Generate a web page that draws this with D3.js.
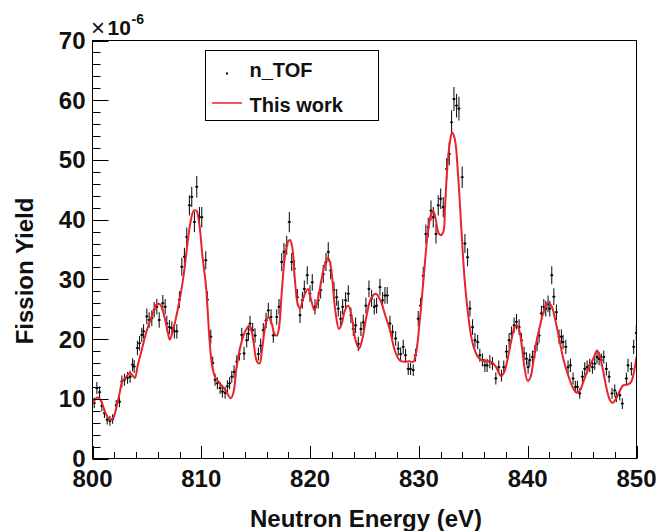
<!DOCTYPE html>
<html>
<head>
<meta charset="utf-8">
<script src="https://cdn.jsdelivr.net/npm/d3@7"></script>
<style>
  html, body { margin: 0; padding: 0; background: #fff; }
  svg { display: block; }
  text { font-family: "Liberation Sans", Arial, Helvetica, sans-serif; fill: #111; }
</style>
</head>
<body>
<svg id="chart" width="656" height="531"></svg>
<script>
// ---- data ----
const energies = [
  800.16, 800.40, 800.65, 800.86, 801.10, 801.35, 801.60, 801.85, 802.18, 802.48,
  802.70, 802.94, 803.22, 803.46, 803.68, 803.83, 804.13, 804.32, 804.53, 804.69,
  804.99, 805.21, 805.45, 805.67, 805.91, 806.13, 806.46, 806.68, 806.83, 807.07,
  807.29, 807.53, 807.75, 807.99, 808.21, 808.45, 808.66, 808.91, 809.12, 809.37,
  809.58, 809.83, 810.04, 810.41, 810.56, 810.87, 811.05, 811.27, 811.48, 811.73,
  811.94, 812.19, 812.40, 812.60, 812.80, 813.01, 813.26, 813.50, 813.72, 813.93,
  814.17, 814.33, 814.48, 814.72, 814.94, 815.25, 815.46, 815.70, 815.95, 816.16,
  816.41, 816.62, 816.93, 817.14, 817.39, 817.60, 817.85, 818.09, 818.31, 818.55,
  818.83, 819.07, 819.29, 819.47, 819.74, 819.99, 820.20, 820.45, 820.75, 820.97,
  821.21, 821.46, 821.67, 821.89, 822.19, 822.44, 822.59, 822.81, 822.99, 823.26,
  823.51, 823.75, 823.97, 824.18, 824.43, 824.67, 824.89, 825.13, 825.41, 825.65,
  825.90, 826.11, 826.42, 826.66, 826.88, 827.09, 827.34, 827.58, 827.86, 828.10,
  828.32, 828.56, 828.77, 829.02, 829.23, 829.48, 829.69, 829.94, 830.15, 830.40,
  830.64, 830.86, 831.11, 831.32, 831.57, 831.78, 832.00, 832.24, 832.55, 832.79,
  833.00, 833.22, 833.46, 833.68, 833.98, 834.23, 834.47, 834.69, 834.93, 835.15,
  835.40, 835.60, 835.84, 836.06, 836.27, 836.52, 836.76, 837.07, 837.34, 837.59,
  837.80, 838.05, 838.29, 838.51, 838.75, 838.97, 839.21, 839.43, 839.67, 839.89,
  840.04, 840.19, 840.44, 840.65, 840.86, 841.05, 841.26, 841.48, 841.66, 841.87,
  842.03, 842.21, 842.40, 842.64, 842.88, 843.10, 843.25, 843.50, 843.71, 843.93,
  844.17, 844.38, 844.57, 844.78, 845.03, 845.24, 845.46, 845.70, 845.95, 846.16,
  846.37, 846.56, 846.77, 846.99, 847.23, 847.48, 847.75, 848.00, 848.15, 848.46,
  848.70, 849.07, 849.22, 849.53, 849.74, 849.98
];
// fission yield in units of 1e-6
const yields = [
  9.3, 11.8, 11.1, 8.8, 7.6, 6.5, 6.3, 6.6, 8.9, 9.5,
  12.9, 13.2, 13.5, 13.7, 15.7, 15.4, 18.5, 19.3, 20.7, 21.3,
  23.8, 23.2, 23.5, 24.9, 25.4, 23.2, 26.0, 25.4, 22.6, 22.0,
  21.8, 21.3, 21.3, 26.6, 32.1, 33.8, 37.1, 42.4, 43.8, 39.6,
  45.5, 40.4, 40.4, 33.2, 26.6, 20.4, 16.0, 13.2, 12.6, 11.8,
  11.2, 11.0, 12.1, 12.6, 13.7, 14.5, 16.2, 17.5, 20.7, 17.6,
  19.8, 20.9, 22.6, 21.5, 20.6, 17.5, 18.9, 21.5, 23.1, 24.8,
  23.7, 20.6, 23.7, 25.4, 32.9, 34.6, 35.7, 39.6, 32.9, 31.8,
  27.0, 24.0, 26.5, 28.4, 30.7, 27.6, 29.5, 25.4, 26.5, 28.2,
  30.9, 32.9, 34.6, 31.5, 28.2, 27.0, 25.1, 23.4, 25.4, 26.5,
  27.6, 24.0, 21.7, 22.3, 19.2, 21.7, 22.8, 25.6, 28.4, 26.8,
  25.4, 25.6, 28.7, 26.5, 27.3, 27.3, 22.6, 21.2, 20.1, 18.4,
  17.5, 18.7, 17.3, 15.0, 15.0, 14.8, 17.3, 23.4, 25.6, 30.6,
  37.6, 38.7, 41.5, 40.4, 37.6, 42.4, 43.5, 42.1, 48.5, 51.0,
  56.3, 60.2, 59.1, 58.6, 47.1, 36.0, 33.7, 25.1, 22.0, 19.8,
  19.5, 17.3, 16.5, 15.6, 15.6, 16.2, 15.9, 13.4, 15.3, 13.9,
  15.3, 17.9, 19.8, 20.9, 22.3, 22.9, 22.0, 19.8, 17.6, 16.7,
  15.3, 16.5, 17.0, 17.9, 19.2, 20.6, 24.3, 25.4, 25.1, 25.9,
  25.1, 30.7, 27.1, 24.5, 20.4, 20.4, 19.5, 18.7, 15.3, 15.6,
  13.4, 12.0, 12.0, 10.9, 13.7, 15.0, 15.3, 15.6, 15.3, 15.9,
  17.0, 16.7, 16.5, 17.0, 15.0, 13.7, 10.9, 11.4, 10.3, 10.6,
  9.2, 13.4, 15.6, 15.0, 18.7, 21.0
];
const yieldErrors = [
  0.9, 1.0, 1.0, 0.9, 0.8, 0.8, 0.8, 0.8, 0.9, 0.9,
  1.0, 1.0, 1.0, 1.0, 1.1, 1.1, 1.2, 1.2, 1.2, 1.2,
  1.3, 1.3, 1.3, 1.3, 1.3, 1.3, 1.4, 1.3, 1.3, 1.2,
  1.2, 1.2, 1.2, 1.4, 1.5, 1.5, 1.6, 1.7, 1.7, 1.7,
  1.8, 1.7, 1.7, 1.5, 1.4, 1.2, 1.1, 1.0, 1.0, 1.0,
  1.0, 1.0, 1.0, 1.0, 1.0, 1.1, 1.1, 1.1, 1.2, 1.1,
  1.2, 1.2, 1.3, 1.2, 1.2, 1.1, 1.2, 1.2, 1.3, 1.3,
  1.3, 1.2, 1.3, 1.3, 1.5, 1.5, 1.6, 1.7, 1.5, 1.5,
  1.4, 1.3, 1.4, 1.4, 1.5, 1.4, 1.4, 1.3, 1.4, 1.4,
  1.5, 1.5, 1.6, 1.5, 1.4, 1.4, 1.3, 1.3, 1.3, 1.4,
  1.4, 1.3, 1.2, 1.3, 1.2, 1.2, 1.3, 1.3, 1.4, 1.4,
  1.3, 1.3, 1.4, 1.4, 1.4, 1.4, 1.3, 1.2, 1.2, 1.2,
  1.1, 1.2, 1.1, 1.0, 1.0, 1.0, 1.1, 1.3, 1.3, 1.5,
  1.6, 1.6, 1.7, 1.7, 1.6, 1.7, 1.7, 1.7, 1.8, 1.9,
  2.0, 2.0, 2.0, 2.0, 1.8, 1.6, 1.5, 1.3, 1.3, 1.2,
  1.2, 1.1, 1.1, 1.1, 1.1, 1.1, 1.1, 1.0, 1.1, 1.0,
  1.1, 1.1, 1.2, 1.2, 1.3, 1.3, 1.3, 1.2, 1.1, 1.1,
  1.1, 1.1, 1.1, 1.1, 1.2, 1.2, 1.3, 1.3, 1.3, 1.4,
  1.3, 1.5, 1.4, 1.3, 1.2, 1.2, 1.2, 1.2, 1.1, 1.1,
  1.0, 1.0, 1.0, 0.9, 1.0, 1.1, 1.1, 1.1, 1.1, 1.1,
  1.1, 1.1, 1.1, 1.1, 1.1, 1.0, 0.9, 1.0, 0.9, 0.9,
  0.9, 1.0, 1.1, 1.1, 1.2, 1.3
];
// "This work" curve
const fitEnergy = [
  800.0, 800.3, 800.5, 800.8, 801.2, 801.6, 801.9, 802.2, 802.5, 802.75,
  803.0, 803.4, 803.65, 803.9, 804.15, 804.5, 805.0, 805.5, 805.9, 806.2,
  806.6, 806.9, 807.1, 807.4, 807.75, 808.1, 808.4, 808.7, 809.0, 809.3,
  809.55, 809.8, 810.1, 810.45, 810.75, 811.0, 811.3, 811.7, 812.2, 812.7,
  812.95, 813.25, 813.7, 814.1, 814.45, 814.8, 815.1, 815.35, 815.6, 815.9,
  816.15, 816.45, 816.75, 816.95, 817.15, 817.4, 817.7, 818.0, 818.15, 818.35,
  818.6, 818.85, 819.07, 819.4, 819.8, 820.1, 820.4, 820.7, 821.1, 821.45,
  821.67, 821.95, 822.3, 822.65, 822.9, 823.2, 823.5, 823.8, 824.15, 824.5,
  824.8, 825.2, 825.6, 826.05, 826.5, 826.9, 827.34, 827.8, 828.25, 828.7,
  829.1, 829.48, 829.75, 830.05, 830.4, 830.8, 831.1, 831.3, 831.5, 831.8,
  832.0, 832.25, 832.4, 832.6, 832.85, 833.05, 833.3, 833.6, 833.9, 834.2,
  834.5, 834.8, 835.1, 835.5, 836.0, 836.4, 836.8, 837.1, 837.55, 837.85,
  838.1, 838.5, 838.8, 839.03, 839.25, 839.45, 839.7, 840.0, 840.25, 840.5,
  840.8, 841.1, 841.5, 841.87, 842.2, 842.5, 842.9, 843.3, 843.8, 844.2,
  844.5, 844.8, 845.2, 845.7, 846.05, 846.37, 846.6, 846.9, 847.3, 847.55,
  847.8, 848.05, 848.45, 848.8, 849.2, 849.5, 849.8, 850.0
];
const fitYield = [
  9.1, 10.0, 10.2, 9.6, 7.6, 6.5, 6.8, 8.6, 11.0, 13.0,
  13.4, 14.3, 14.0, 13.5, 15.5, 18.0, 21.5, 24.0, 25.8, 25.8,
  23.8, 21.3, 19.9, 21.5, 24.2, 27.5, 31.0, 35.5, 39.5, 41.5,
  41.5, 39.5, 34.0, 28.5, 20.0, 15.5, 13.5, 12.6, 11.5, 10.1,
  11.0, 15.4, 19.5, 21.5, 22.3, 19.5, 16.3, 15.9, 18.5, 22.3,
  23.7, 22.7, 20.8, 20.6, 22.0, 28.0, 34.0, 36.4, 36.6, 35.5,
  30.0, 26.0, 25.1, 27.0, 28.4, 26.5, 24.8, 26.5, 30.5, 33.0,
  33.6, 31.5, 25.0, 21.7, 22.5, 24.8, 25.6, 24.0, 20.0, 18.4,
  20.0, 24.0, 26.8, 27.6, 26.3, 24.0, 21.5, 18.0, 16.4, 16.2,
  16.3, 16.2, 17.8, 22.5, 29.5, 37.5, 40.8, 41.5, 40.5, 37.8,
  37.4, 38.0, 42.0, 48.5, 53.0, 54.6, 53.5, 47.5, 38.5, 30.0,
  24.5, 20.5, 18.3, 16.8, 16.3, 16.3, 16.0, 15.3, 13.8, 14.5,
  16.2, 19.8, 22.0, 22.3, 21.3, 19.0, 15.3, 13.0, 13.6, 16.0,
  19.5, 22.0, 24.8, 26.1, 25.5, 23.5, 20.0, 16.5, 13.5, 11.7,
  11.0, 11.4, 13.3, 15.5, 16.8, 18.1, 17.4, 15.0, 11.3, 9.8,
  9.3, 9.8, 11.3, 12.3, 12.4, 12.8, 14.8, 17.0
];
const xTickLabels = [800, 810, 820, 830, 840, 850];
const yTickLabels = [0, 10, 20, 30, 40, 50, 60, 70];
const xMinorTicks = d3.range(800, 851, 2);
const yMinorTicks = d3.range(0, 71, 2);
const legendLabels = ["n_TOF", "This work"];
const xTitle = "Neutron Energy (eV)";
const yTitle = "Fission Yield";

// ---- layout ----
const svg = d3.select("#chart");
const pLeft = 92.5, pRight = 636.5, pTop = 40.5, pBottom = 458.5;
const x = d3.scaleLinear().domain([800, 850]).range([pLeft, pRight]);
const y = d3.scaleLinear().domain([0, 70]).range([pBottom, pTop]);
const red = "#e8232b";

svg.append("rect").attr("width", 656).attr("height", 531).attr("fill", "#fff");

svg.append("defs").append("clipPath").attr("id", "clip")
  .append("rect").attr("x", pLeft).attr("y", pTop).attr("width", pRight - pLeft).attr("height", pBottom - pTop);

// ---- data points with error bars ----
const pts = energies.map((e, i) => ({ e, v: yields[i], err: yieldErrors[i] }));
const gp = svg.append("g").attr("clip-path", "url(#clip)");
gp.selectAll("line.ev").data(pts).enter().append("line")
  .attr("x1", d => x(d.e)).attr("x2", d => x(d.e))
  .attr("y1", d => y(d.v - d.err)).attr("y2", d => y(d.v + d.err))
  .attr("stroke", "#1a1a1a").attr("stroke-width", 1.1);
gp.selectAll("line.eh").data(pts).enter().append("line")
  .attr("x1", d => x(d.e) - 1.6).attr("x2", d => x(d.e) + 1.6)
  .attr("y1", d => y(d.v)).attr("y2", d => y(d.v))
  .attr("stroke", "#1a1a1a").attr("stroke-width", 1);
gp.selectAll("rect.pt").data(pts).enter().append("rect")
  .attr("x", d => x(d.e) - 1).attr("y", d => y(d.v) - 1)
  .attr("width", 2).attr("height", 2).attr("fill", "#000");

// ---- fit curve ----
const fitData = fitEnergy.map((e, i) => [e, fitYield[i]]);
const line = d3.line().x(d => x(d[0])).y(d => y(d[1])).curve(d3.curveCatmullRom.alpha(0.5));
svg.append("path").attr("clip-path", "url(#clip)").datum(fitData)
  .attr("d", line).attr("fill", "none").attr("stroke", red).attr("stroke-width", 2);

// ---- frame & ticks ----
const axisG = svg.append("g").attr("stroke", "#000").attr("stroke-width", 1);
axisG.append("rect").attr("x", pLeft).attr("y", pTop).attr("width", pRight - pLeft).attr("height", pBottom - pTop)
  .attr("fill", "none");

// y ticks (inward, on left axis)
axisG.selectAll("line.ymin").data(yMinorTicks).enter().append("line")
  .attr("x1", pLeft).attr("x2", d => pLeft + (d % 10 === 0 ? 16 : 8))
  .attr("y1", d => Math.round(y(d)) + 0.5).attr("y2", d => Math.round(y(d)) + 0.5);
// x ticks (inward, on bottom axis)
axisG.selectAll("line.xmin").data(xMinorTicks).enter().append("line")
  .attr("x1", d => Math.round(x(d)) + 0.5).attr("x2", d => Math.round(x(d)) + 0.5)
  .attr("y1", pBottom).attr("y2", d => pBottom - (d % 10 === 0 ? 12.5 : 6.5));

// tick labels
svg.selectAll("text.yl").data(yTickLabels).enter().append("text")
  .attr("x", 85.5).attr("y", d => y(d) + 8.5)
  .attr("text-anchor", "end").attr("font-size", 24).attr("font-weight", "bold")
  .text(d => d);
svg.selectAll("text.xl").data(xTickLabels).enter().append("text")
  .attr("x", d => x(d)).attr("y", 487)
  .attr("text-anchor", "middle").attr("font-size", 24).attr("font-weight", "bold")
  .text(d => d);

// exponent label x10^-6
svg.append("text").attr("x", 91).attr("y", 36).attr("font-size", 24).text("\u00d7");
svg.append("text").attr("x", 107.5).attr("y", 35).attr("font-size", 21).attr("font-weight", "bold").text("10");
svg.append("text").attr("x", 131.5).attr("y", 24).attr("font-size", 14).attr("font-weight", "bold").text("-6");

// axis titles
svg.append("text").attr("x", 366).attr("y", 527)
  .attr("text-anchor", "middle").attr("font-size", 24).attr("font-weight", "bold").text(xTitle);
svg.append("text").attr("transform", "translate(33,271) rotate(-90)")
  .attr("text-anchor", "middle").attr("font-size", 24).attr("font-weight", "bold").text(yTitle);

// ---- legend ----
const lg = svg.append("g");
lg.append("rect").attr("x", 205.5).attr("y", 50.5).attr("width", 173).attr("height", 70)
  .attr("fill", "#fff").attr("stroke", "#000").attr("stroke-width", 1);
lg.append("rect").attr("x", 226).attr("y", 72.5).attr("width", 2).attr("height", 2).attr("fill", "#000");
lg.append("line").attr("x1", 212).attr("x2", 242).attr("y1", 103).attr("y2", 103)
  .attr("stroke", red).attr("stroke-width", 1.5);
lg.selectAll("text").data(legendLabels).enter().append("text")
  .attr("x", 249.5).attr("y", (d, i) => 76.5 + i * 35)
  .attr("font-size", 20).attr("font-weight", "bold").text(d => d);
</script>
</body>
</html>
